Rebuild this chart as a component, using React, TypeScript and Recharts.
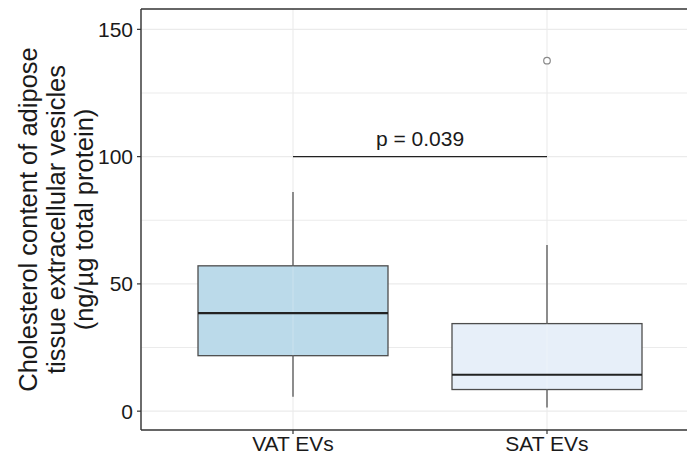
import React from 'react'
import {
  ComposedChart, Bar, Scatter, XAxis, YAxis, CartesianGrid, ReferenceLine, Label,
} from 'recharts'

const categories = ['VAT EVs', 'SAT EVs']
const whiskerLow = [5.7, 1.4]
const q1 = [21.8, 8.5]
const median = [38.5, 14.3]
const q3 = [57.1, 34.4]
const whiskerHigh = [86.1, 65.3]
const outliers: (number | null)[] = [null, 137.7]
const fills = ['#BBDAEA', '#E7EFF9']

const yTicks = [0, 50, 100, 150]
const gridValues = [0, 25, 50, 75, 100, 125, 150]
const yDomain: [number, number] = [-7.4, 158]
const pValue = 'p = 0.039'
const pHeight = 100

const FONT = '"Liberation Sans", Arial, sans-serif'
const TEXT = '#1a1a1a'
const BORDER = '#333333'

const data = categories.map((name, i) => ({
  name,
  range: [whiskerLow[i], whiskerHigh[i]],
  lo: whiskerLow[i],
  hi: whiskerHigh[i],
  q1: q1[i],
  med: median[i],
  q3: q3[i],
  fill: fills[i],
  outlier: outliers[i],
}))

// whole box + whiskers drawn from the range bar's pixel extent
function BoxShape(props: any) {
  const { x, y, width, height, payload } = props
  if (height == null || !payload) return null
  const k = height / (payload.hi - payload.lo)
  const py = (v: number) => y + (payload.hi - v) * k
  const cx = x + width / 2
  return (
    <g>
      <line x1={cx} x2={cx} y1={py(payload.hi)} y2={py(payload.q3)} stroke="#555" strokeWidth={1.3} />
      <line x1={cx} x2={cx} y1={py(payload.q1)} y2={py(payload.lo)} stroke="#555" strokeWidth={1.3} />
      <rect
        x={x} y={py(payload.q3)} width={width} height={py(payload.q1) - py(payload.q3)}
        fill={payload.fill} stroke="#4d4d4d" strokeWidth={1.3}
      />
      <line x1={cx} x2={cx} y1={py(payload.q3)} y2={py(payload.q1)} stroke="rgba(255,255,255,0.25)" strokeWidth={1} />
      <line x1={x} x2={x + width} y1={py(payload.med)} y2={py(payload.med)} stroke="#222" strokeWidth={2.2} />
    </g>
  )
}

function OutlierDot(props: any) {
  const { cx, cy, payload } = props
  if (payload?.outlier == null || cx == null || cy == null) return null
  return <circle cx={cx} cy={cy} r={3.3} fill="#fff" stroke="#8a8a8a" strokeWidth={1.2} />
}

function YTitle(props: any) {
  const vb = props.viewBox || { x: 0, y: 0, width: 0, height: 0 }
  const cy = vb.y + vb.height / 2
  const lines = [
    { text: 'Cholesterol content of adipose', bx: 37 },
    { text: 'tissue extracellular vesicles', bx: 65 },
    { text: '(ng/µg total protein)', bx: 93 },
  ]
  return (
    <g>
      {lines.map((l) => (
        <text
          key={l.text}
          x={l.bx} y={cy}
          transform={`rotate(-90, ${l.bx}, ${cy})`}
          textAnchor="middle"
          fontFamily={FONT}
          fontSize={25.5}
          fill={TEXT}
          dominantBaseline="alphabetic"
        >
          {l.text}
        </text>
      ))}
    </g>
  )
}

export default function App() {
  return (
    <div style={{ position: 'absolute', left: 0, top: 0, width: 687, height: 459, overflow: 'hidden', background: '#fff' }}>
      <ComposedChart width={699} height={459} data={data} margin={{ top: 9, right: 0, bottom: 0, left: 0 }}>
        <CartesianGrid stroke="#EBEBEB" strokeWidth={1.1} horizontalValues={gridValues} />
        <XAxis
          dataKey="name"
          type="category"
          padding={{ left: 25, right: 25 }}
          height={29}
          tickSize={4}
          tickMargin={2}
          tickLine={{ stroke: BORDER, strokeWidth: 1.2 }}
          axisLine={{ stroke: BORDER, strokeWidth: 1.4 }}
          tick={{ fill: TEXT, fontSize: 21, fontFamily: FONT }}
        />
        <YAxis
          type="number"
          domain={yDomain}
          ticks={yTicks}
          allowDataOverflow
          width={141}
          tickSize={4}
          tickMargin={4}
          tickLine={{ stroke: BORDER, strokeWidth: 1.2 }}
          axisLine={{ stroke: BORDER, strokeWidth: 1.4 }}
          tick={{ fill: TEXT, fontSize: 21, fontFamily: FONT }}
        >
          <Label content={<YTitle />} />
        </YAxis>
        <ReferenceLine y={yDomain[1]} stroke={BORDER} strokeWidth={1.4} />
        <Bar dataKey="range" barSize={190} shape={<BoxShape />} isAnimationActive={false} />
        <Scatter dataKey="outlier" shape={<OutlierDot />} isAnimationActive={false} />
        <ReferenceLine
          segment={[{ x: categories[0], y: pHeight }, { x: categories[1], y: pHeight }]}
          stroke="#222"
          strokeWidth={1.4}
          label={{ value: pValue, position: 'top', offset: 11, fill: TEXT, fontSize: 21, fontFamily: FONT }}
        />
      </ComposedChart>
    </div>
  )
}
